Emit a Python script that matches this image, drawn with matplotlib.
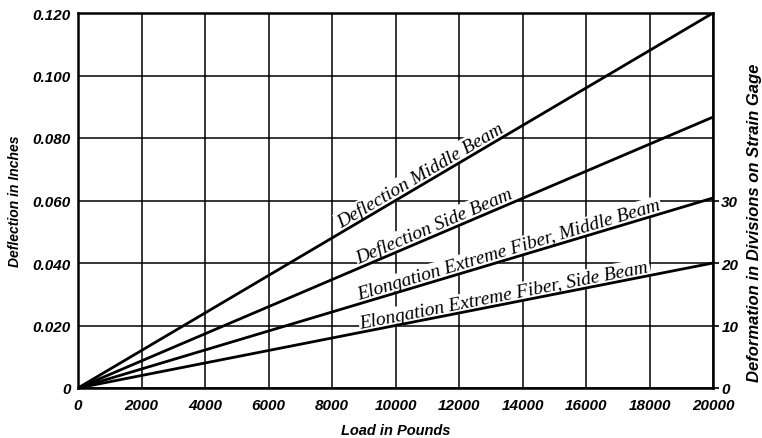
import numpy as np
import matplotlib
matplotlib.use("Agg")
import matplotlib.pyplot as plt
import matplotlib.transforms as mtransforms

# load in pounds (end points of the straight lines)
load = [0, 20000]

# deflection / deformation values (left axis units)
defl_middle = [0, 0.120]
defl_side = [0, 0.0867]
elong_middle = [0, 0.0608]
elong_side = [0, 0.0400]

series = [
    ("Deflection Middle Beam", defl_middle, 10930),
    ("Deflection Side Beam", defl_side, 11340),
    ("Elongation Extreme Fiber, Middle Beam", elong_middle, 13640),
    ("Elongation Extreme Fiber, Side Beam", elong_side, 13480),
]

x_ticks = list(range(0, 20001, 2000))
y_ticks = [0, 0.020, 0.040, 0.060, 0.080, 0.100, 0.120]
y_tick_labels = ["0", "0.020", "0.040", "0.060", "0.080", "0.100", "0.120"]
right_ticks = [0, 10, 20, 30]

tick_font = dict(family=["Liberation Sans", "DejaVu Sans"],
                 weight="bold", style="italic")
label_font = dict(family=["Liberation Serif", "DejaVu Serif"], style="italic")

fig = plt.figure(figsize=(7.62, 4.39), dpi=100)
ax = fig.add_axes([78 / 762, 50 / 439, 635 / 762, 375 / 439])

ax.set_xlim(0, 20000)
ax.set_ylim(0, 0.120)
ax.set_xticks(x_ticks)
ax.set_xticklabels([str(v) for v in x_ticks], fontsize=11, **tick_font)
ax.set_yticks(y_ticks)
ax.set_yticklabels(y_tick_labels, fontsize=11, **tick_font)
ax.tick_params(axis="x", length=0, pad=7)
ax.tick_params(axis="y", length=0, pad=5)
ax.grid(True, color="black", linewidth=1.1, zorder=1)
ax.set_axisbelow(True)
for s in ax.spines.values():
    s.set_linewidth(1.8)

ax.set_xlabel("Load in Pounds", fontsize=10.5, labelpad=8, **tick_font)
ax.set_ylabel("Deflection in Inches", fontsize=10, labelpad=8, **tick_font)

ax2 = ax.twinx()
ax2.set_ylim(0, 60)
ax2.set_yticks(right_ticks)
ax2.set_yticklabels([str(v) for v in right_ticks], fontsize=11, **tick_font)
ax2.tick_params(length=4, width=1.2, pad=2, direction="out")
ax2.set_ylabel("Deformation in Divisions on Strain Gage", fontsize=12,
               **tick_font)
ax2.yaxis.set_label_coords(1.053, 0.443)
for s in ax2.spines.values():
    s.set_visible(False)

for name, vals, xc in series:
    ax.plot(load, vals, color="black", linewidth=2.0, zorder=3,
            solid_capstyle="butt")
    p0 = ax.transData.transform((load[0], vals[0]))
    p1 = ax.transData.transform((load[1], vals[1]))
    ang = np.degrees(np.arctan2(p1[1] - p0[1], p1[0] - p0[0]))
    yc = np.interp(xc, load, vals)
    # shift the baseline a little off the line, perpendicular to it
    off = 3.0
    dx = -off * np.sin(np.radians(ang))
    dy = off * np.cos(np.radians(ang))
    tr = ax.transData + mtransforms.ScaledTranslation(dx / 72, dy / 72,
                                                      fig.dpi_scale_trans)
    ax.text(xc, yc, name, transform=tr, rotation=ang, rotation_mode="anchor",
            ha="center", va="baseline", fontsize=14, zorder=2,
            bbox=dict(facecolor="white", edgecolor="none", pad=1.0),
            **label_font)

fig.savefig("out.png", dpi=100)
